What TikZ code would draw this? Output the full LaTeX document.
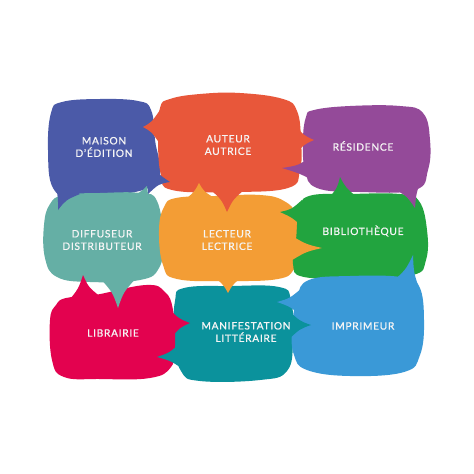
\documentclass[tikz,border=0pt]{standalone}
\usepackage{fontspec}
\newfontfamily\lblfont{Lato}[LetterSpace=7, FakeBold=0.9]
\usetikzlibrary{calc}
\definecolor{cMaison}{RGB}{75,90,168}
\definecolor{cAuteur}{RGB}{232,87,58}
\definecolor{cResid}{RGB}{148,74,153}
\definecolor{cDiff}{RGB}{101,175,165}
\definecolor{cLect}{RGB}{243,157,53}
\definecolor{cBiblio}{RGB}{34,164,63}
\definecolor{cLibr}{RGB}{227,2,79}
\definecolor{cManif}{RGB}{11,146,156}
\definecolor{cImpr}{RGB}{58,153,215}
\newcommand\bptr[4]{%
  \path #2 coordinate (pA) #3 coordinate (pT) #4 coordinate (pB);
  \path ($(pA)!0.5!(pB)$) coordinate (pM);
  \path ($(pA)!0.5!(pT)$) coordinate (pAh) ($(pB)!0.5!(pT)$) coordinate (pBh) ($(pM)!0.5!(pT)$) coordinate (pMh);
  \fill[#1] (pA) .. controls ($(pAh)!0.45!(pMh)$) .. (pT) .. controls ($(pBh)!0.45!(pMh)$) .. (pB) -- (pM) -- cycle;
}
\newcommand\bbody[2]{\fill[#1] plot[smooth cycle, tension=0.7] coordinates {#2};}
\tikzset{lbl/.style={text=white!96!black, align=center, font=\lblfont\fontsize{10.2}{12.5}\selectfont, inner sep=0pt}}
\begin{document}
\begin{tikzpicture}[x=1pt,y=-1pt]
\fill[white] (0,0) rectangle (474,474);
\useasboundingbox (0,0) rectangle (474,474);
% bodies
\bbody{cMaison}{(62,102) (100,99) (138,101) (151,110) (155,140) (158,180) (120,195) (75,198) (53,188) (48,150) (51,113)}
\bbody{cAuteur}{(170,99) (200,94) (240,93) (283,99) (297,111) (301,140) (300,170) (288,188) (230,192) (172,190) (161,175) (158,140) (160,108)}
\bbody{cResid}{(314,110) (350,106) (400,106) (423,113) (430,140) (428,170) (415,190) (360,192) (317,188) (305,170) (303,140) (306,117)}
\bbody{cDiff}{(64,195) (100,193) (140,193) (157,201) (163,240) (159,268) (140,280) (90,282) (57,277) (45,258) (44,225) (50,204)}
\bbody{cLect}{(176,198) (215,196) (260,195) (284,201) (296,216) (298,250) (294,269) (278,279) (230,281) (177,279) (163,265) (159,230) (164,207)}
\bbody{cBiblio}{(309,196) (350,194) (400,194) (419,201) (427,230) (426,260) (413,275) (360,278) (304,277) (293,264) (296,240) (299,211)}
\bbody{cManif}{(184,288) (230,286) (279,287) (291,300) (293,340) (287,371) (260,380) (200,381) (181,371) (174,340) (175,301)}
\bbody{cLibr}{(66,298) (95,295) (146,285) (165,292) (173,310) (175,345) (171,367) (150,378) (100,379) (64,377) (52,360) (50,320) (56,305)}
\bbody{cImpr}{(309,280) (350,276) (401,277) (419,286) (424,320) (420,355) (404,372) (350,376) (307,370) (294,355) (292,330) (297,298)}
% pointers
\bptr{cMaison}{(52,176)}{(58,210)}{(80,194)}
\bptr{cAuteur}{(160,110)}{(143,127)}{(160,144)}
\bptr{cMaison}{(146,158)}{(170,182)}{(148,194)}
\bptr{cResid}{(312,156)}{(282,168)}{(324,187)}
\bptr{cAuteur}{(294,124)}{(314,140)}{(294,156)}
\bptr{cResid}{(390,187)}{(415,208)}{(426,170)}
\bptr{cDiff}{(126,197)}{(147,186)}{(156,210)}
\bptr{cAuteur}{(206,186)}{(227,212)}{(249,186)}
\bptr{cLect}{(182,202)}{(199,183)}{(216,199)}
\bptr{cBiblio}{(328,199)}{(340,177)}{(358,198)}
\bptr{cBiblio}{(302,200)}{(280,212)}{(306,230)}
\bptr{cLect}{(289,234)}{(322,248)}{(289,262)}
\bptr{cDiff}{(98,276)}{(118,308)}{(138,276)}
\bptr{cLibr}{(66,304)}{(83,275)}{(102,298)}
\bptr{cLect}{(209,274)}{(228,293)}{(247,274)}
\bptr{cLibr}{(168,308)}{(190,323)}{(170,339)}
\bptr{cManif}{(182,341)}{(157,357)}{(187,372)}
\bptr{cImpr}{(302,288)}{(277,302)}{(304,318)}
\bptr{cManif}{(289,311)}{(311,325)}{(289,339)}
\bptr{cImpr}{(392,282)}{(413,255)}{(421,294)}
% labels
\node[lbl] (maison) at (104,147) {MAISON\\D’ÉDITION};
\node[lbl] (auteur) at (228,145) {AUTEUR\\AUTRICE};
\node[lbl] (residence) at (363,146) {RÉSIDENCE};
\node[lbl] (diffuseur) at (102,240) {DIFFUSEUR\\DISTRIBUTEUR};
\node[lbl] (lecteur) at (227,240) {LECTEUR\\LECTRICE};
\node[lbl] (biblio) at (363,231) {BIBLIOTHÈQUE};
\node[lbl] (librairie) at (113,333) {LIBRAIRIE};
\node[lbl] (manif) at (246,332) {MANIFESTATION\\LITTÉRAIRE};
\node[lbl] (imprimeur) at (363,326) {IMPRIMEUR};
\end{tikzpicture}
\end{document}
